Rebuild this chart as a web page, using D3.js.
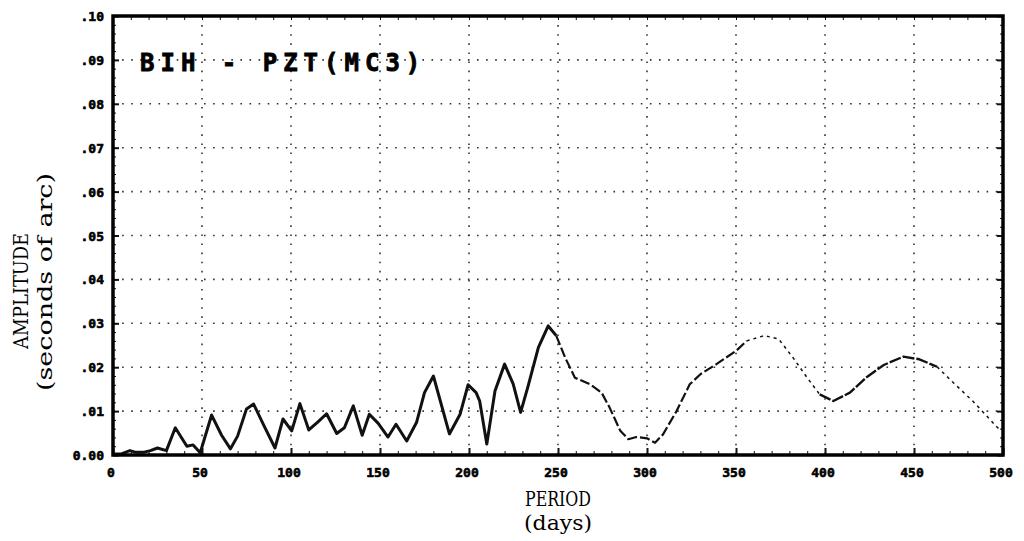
<!DOCTYPE html>
<html>
<head>
<meta charset="utf-8">
<script src="https://cdn.jsdelivr.net/npm/d3@7"></script>
<style>
  body { margin: 0; background: #fff; }
  svg { display: block; }
</style>
</head>
<body>
<svg id="chart" width="1024" height="541"></svg>
<script>
// spectrum: period (days) -> amplitude (seconds of arc)
const periods = [0, 5, 9.5, 13, 17, 21, 25, 30, 35, 41.5, 45, 49, 55.4, 61, 66, 70, 75, 79, 85, 91,
  95.5, 100.4, 105, 110, 115, 120, 125.7, 130, 135, 140, 144, 149, 154.5, 159, 165, 170.5, 175, 180,
  189, 195, 199.5, 204, 206, 210, 214.6, 220, 224.8, 229, 233, 239, 244.5, 249, 254, 259.5, 268,
  274.5, 279, 285, 289.5, 294, 300, 304.5, 309, 316.6, 324, 330, 339, 350, 356, 366, 374, 382, 390,
  397, 404.7, 414, 423, 433, 444, 453, 463, 472, 483, 497, 500];
const amplitudes = [0.0002, 0.0003, 0.001, 0.0006, 0.0006, 0.001, 0.0016, 0.001, 0.0062, 0.002, 0.0023,
  0.0005, 0.0091, 0.0045, 0.0014, 0.0043, 0.0105, 0.0116, 0.0065, 0.0016, 0.0082, 0.0055, 0.0117,
  0.0057, 0.0075, 0.0094, 0.0049, 0.0062, 0.0112, 0.0045, 0.0093, 0.0072, 0.0041, 0.007, 0.0032,
  0.0074, 0.0142, 0.018, 0.0048, 0.0093, 0.016, 0.0142, 0.0123, 0.0025, 0.0146, 0.0207, 0.0162,
  0.0097, 0.0154, 0.0245, 0.0294, 0.0272, 0.0222, 0.0176, 0.0161, 0.0142, 0.0108, 0.0055, 0.0036,
  0.0041, 0.0038, 0.0028, 0.0047, 0.01, 0.0161, 0.0184, 0.0207, 0.0237, 0.026, 0.0272, 0.0264,
  0.0222, 0.0176, 0.0138, 0.0123, 0.0142, 0.0176, 0.0205, 0.0224, 0.0218, 0.0201, 0.0165, 0.0123,
  0.0062, 0.0057];

const xTicks = [0, 50, 100, 150, 200, 250, 300, 350, 400, 450, 500];
const yTicks = [0, 0.01, 0.02, 0.03, 0.04, 0.05, 0.06, 0.07, 0.08, 0.09, 0.10];
const yTickLabels = ["0.00", ".01", ".02", ".03", ".04", ".05", ".06", ".07", ".08", ".09", ".10"];

const data = periods.map((p, i) => ({ p: p, a: amplitudes[i] }));

const margin = { top: 16, right: 21, bottom: 86, left: 113 };
const width = 1024, height = 541;

const svg = d3.select("#chart");

const x = d3.scaleLinear().domain([0, 500]).range([margin.left, width - margin.right]);
const y = d3.scaleLinear().domain([0, 0.10]).range([height - margin.bottom, margin.top]);

// dotted grid
const grid = svg.append("g")
  .attr("stroke", "#333")
  .attr("stroke-width", 1.6)
  .attr("stroke-dasharray", "1.6,7.5");
grid.selectAll("line.v")
  .data(xTicks.slice(1, -1))
  .join("line")
  .attr("x1", d => x(d)).attr("x2", d => x(d))
  .attr("y1", y(0.10)).attr("y2", y(0));
grid.selectAll("line.h")
  .data(yTicks.slice(1, -1))
  .join("line")
  .attr("x1", x(0)).attr("x2", x(500))
  .attr("y1", d => y(d)).attr("y2", d => y(d));

// curve, drawn in pieces like the pen plotter did
const line = d3.line().x(d => x(d.p)).y(d => y(d.a));
const pieces = [
  { from: 0, to: 249, w: 3, dash: null },
  { from: 249, to: 356, w: 2.2, dash: "10,3" },
  { from: 356, to: 397, w: 1.5, dash: "3,4" },
  { from: 397, to: 463, w: 2.4, dash: "12,2" },
  { from: 463, to: 500, w: 1.5, dash: "3,4" }
];
pieces.forEach(pc => {
  svg.append("path")
    .datum(data.filter(d => d.p >= pc.from && d.p <= pc.to))
    .attr("fill", "none")
    .attr("stroke", "#111")
    .attr("stroke-width", pc.w)
    .attr("stroke-linejoin", "round")
    .attr("stroke-dasharray", pc.dash)
    .attr("d", line);
});

// axes: inward ticks on all four sides
const minorX = d3.range(0, 501, 10);
const minorY = d3.range(0, 0.1001, 0.002);
svg.append("g")
  .attr("transform", `translate(0,${y(0)})`)
  .call(d3.axisTop(x).tickValues(minorX).tickSize(4).tickFormat(""))
  .call(g => g.select(".domain").remove());
svg.append("g")
  .attr("transform", `translate(0,${y(0.10)})`)
  .call(d3.axisBottom(x).tickValues(minorX).tickSize(4).tickFormat(""))
  .call(g => g.select(".domain").remove());
svg.append("g")
  .attr("transform", `translate(${x(0)},0)`)
  .call(d3.axisRight(y).tickValues(minorY).tickSize(3).tickFormat(""))
  .call(g => g.select(".domain").remove());
svg.append("g")
  .attr("transform", `translate(${x(500)},0)`)
  .call(d3.axisLeft(y).tickValues(minorY).tickSize(3).tickFormat(""))
  .call(g => g.select(".domain").remove());

// major ticks + labels
const xAxis = svg.append("g")
  .attr("transform", `translate(0,${y(0)})`)
  .call(d3.axisTop(x).tickValues(xTicks).tickSize(7).tickFormat(""));
xAxis.select(".domain").remove();
xAxis.selectAll("line").attr("stroke-width", 2);

const yAxis = svg.append("g")
  .attr("transform", `translate(${x(0)},0)`)
  .call(d3.axisRight(y).tickValues(yTicks).tickSize(6).tickFormat(""));
yAxis.select(".domain").remove();
yAxis.selectAll("line").attr("stroke-width", 2);

svg.append("g")
  .attr("transform", `translate(${x(500)},0)`)
  .call(d3.axisLeft(y).tickValues(yTicks).tickSize(6).tickFormat(""))
  .call(g => g.select(".domain").remove())
  .selectAll("line").attr("stroke-width", 2);

svg.selectAll("g.tick line").attr("stroke", "#111");

svg.append("g")
  .selectAll("text")
  .data(xTicks)
  .join("text")
  .attr("x", d => x(d) - 2)
  .attr("y", y(0) + 22)
  .attr("text-anchor", "middle")
  .attr("font-family", "DejaVu Sans Mono")
  .attr("font-weight", "bold")
  .attr("font-size", 13)
  .attr("stroke", "#000").attr("stroke-width", 0.6)
  .text(d => d);

svg.append("g")
  .selectAll("text")
  .data(yTicks)
  .join("text")
  .attr("x", x(0) - 9)
  .attr("y", d => y(d) + 5)
  .attr("text-anchor", "end")
  .attr("font-family", "DejaVu Sans Mono")
  .attr("font-weight", "bold")
  .attr("font-size", 13)
  .attr("stroke", "#000").attr("stroke-width", 0.6)
  .text((d, i) => yTickLabels[i]);

// frame
svg.append("rect")
  .attr("x", x(0)).attr("y", y(0.10))
  .attr("width", x(500) - x(0)).attr("height", y(0) - y(0.10))
  .attr("fill", "none")
  .attr("stroke", "#000")
  .attr("stroke-width", 3.5);

// title inside the plot
svg.append("text")
  .attr("x", 140).attr("y", 71)
  .attr("font-family", "DejaVu Sans Mono")
  .attr("font-weight", "bold")
  .attr("font-size", 24)
  .attr("letter-spacing", 6)
  .attr("stroke", "#000").attr("stroke-width", 0.8)
  .attr("xml:space", "preserve")
  .text("BIH - PZT(MC3)");

// axis titles
const serif = "'DejaVu Serif Condensed', 'DejaVu Serif'";
const cx = (x(0) + x(500)) / 2;
svg.append("text")
  .attr("x", cx).attr("y", 506)
  .attr("text-anchor", "middle")
  .attr("font-family", serif).attr("font-size", 21)
  .attr("font-stretch", "condensed")
  .attr("textLength", 66).attr("lengthAdjust", "spacingAndGlyphs")
  .text("PERIOD");
svg.append("text")
  .attr("x", cx).attr("y", 530)
  .attr("text-anchor", "middle")
  .attr("font-family", serif).attr("font-size", 20)
  .attr("font-stretch", "condensed")
  .attr("textLength", 68).attr("lengthAdjust", "spacingAndGlyphs")
  .text("(days)");

svg.append("text")
  .attr("transform", "translate(28,291) rotate(-90)")
  .attr("text-anchor", "middle")
  .attr("font-family", serif).attr("font-size", 21)
  .attr("font-stretch", "condensed")
  .attr("textLength", 116).attr("lengthAdjust", "spacingAndGlyphs")
  .text("AMPLITUDE");
svg.append("text")
  .attr("transform", "translate(52,282) rotate(-90)")
  .attr("text-anchor", "middle")
  .attr("font-family", serif).attr("font-size", 20)
  .attr("font-stretch", "condensed")
  .attr("textLength", 218).attr("lengthAdjust", "spacingAndGlyphs")
  .text("(seconds of arc)");
</script>
</body>
</html>
